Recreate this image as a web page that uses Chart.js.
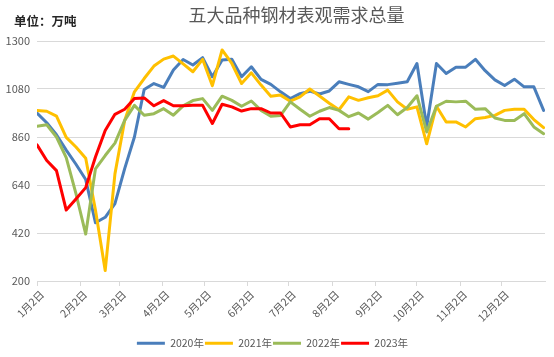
<!DOCTYPE html>
<html>
<head>
<meta charset="utf-8">
<script src="https://cdn.jsdelivr.net/npm/chart.js@4.4.1/dist/chart.umd.min.js"></script>
<style>
html,body{margin:0;padding:0;background:#ffffff;}
#wrap{position:relative;width:554px;height:357px;overflow:hidden;}
#title{position:absolute;left:96px;width:401px;top:3px;line-height:22px;text-align:center;font-family:'Noto Sans CJK SC',sans-serif;font-size:18px;color:#595959;}
#unit{position:absolute;left:14px;top:12px;line-height:18px;font-family:'Noto Sans CJK SC',sans-serif;font-size:12.5px;font-weight:bold;color:#262626;}
canvas{position:absolute;left:0;top:0;}
</style>
</head>
<body>
<div id="wrap">
<canvas id="c" width="554" height="357"></canvas>
<div id="title">五大品种钢材表观需求总量</div>
<div id="unit">单位：万吨</div>
</div>
<script>
// Tick labels (x axis) and their day offsets from 1月2日
const tickLabels = ['1月2日','2月2日','3月2日','4月2日','5月2日','6月2日','7月2日','8月2日','9月2日','10月2日','11月2日','12月2日'];
const tickDays = [0,31,59,90,120,151,181,212,243,273,304,334];
const yTicks = [200,420,640,860,1080,1300];
const seriesNames = ['2020年','2021年','2022年','2023年'];

// Weekly values (万吨)
const s2020 = [970,925,870,800,735,665,467,492,555,715,860,1078,1105,1087,1167,1215,1190,1224,1136,1213,1216,1136,1182,1124,1101,1067,1036,1059,1070,1057,1071,1113,1101,1090,1068,1101,1100,1106,1113,1197,908,1197,1151,1180,1180,1216,1164,1122,1096,1125,1090,1090,982];
const s2021 = [982,978,956,858,814,763,525,248,691,936,1067,1128,1185,1217,1231,1195,1159,1216,1095,1259,1197,1105,1154,1098,1047,1052,1024,1044,1080,1048,1015,985,1044,1028,1040,1049,1075,1021,987,998,829,1001,929,929,906,944,949,959,982,987,987,940,903];
const s2022 = [909,916,860,765,600,415,714,775,832,936,1005,960,967,990,960,1003,1027,1036,982,1047,1028,1001,1025,982,955,959,1021,987,955,978,995,982,953,970,942,972,1005,962,995,1049,883,1001,1024,1021,1024,987,990,947,936,936,967,906,875];
const s2023 = [824,752,706,525,576,628,768,890,964,987,1036,1039,1003,1027,1003,1003,1005,1005,922,1010,998,979,990,990,970,970,906,916,916,944,944,898,898];

const colors = ['#4A7EBB','#FFC000','#9BBB59','#FF0000'];
const weekStep = 7;

const allSeries = [s2020, s2021, s2022, s2023];
const datasets = allSeries.map((arr, k) => ({
  label: seriesNames[k],
  data: arr.map((v, i) => ({x: i * weekStep, y: v})),
  borderColor: colors[k],
  backgroundColor: colors[k],
  borderWidth: 3,
  pointRadius: 0,
  pointHoverRadius: 0,
  tension: 0,
  fill: false,
  borderJoinStyle: 'round',
  borderCapStyle: 'round',
  order: 4 - k
}));

const fixLayout = {
  id: 'fixLayout',
  beforeLayout(chart) {
    const lg = chart.legend;
    if (lg && !lg._patched) {
      const orig = lg.fit;
      lg.fit = function() { orig.call(this); this.height = 20; };
      lg._patched = true;
    }
  }
};

const fontFam = "'Noto Sans CJK SC', sans-serif";

new Chart(document.getElementById('c'), {
  type: 'line',
  data: { datasets },
  plugins: [fixLayout],
  options: {
    responsive: false,
    animation: false,
    devicePixelRatio: 1,
    layout: { padding: { top: 41, right: 9, left: 0, bottom: 0 } },
    plugins: {
      title: { display: false },
      tooltip: { enabled: false },
      legend: {
        display: true,
        position: 'bottom',
        labels: {
          boxWidth: 28,
          boxHeight: 3,
          padding: 1,
          color: '#595959',
          font: { family: fontFam, size: 10.5 },
          sort: (a, b) => a.datasetIndex - b.datasetIndex,
          generateLabels(chart) {
            const items = Chart.defaults.plugins.legend.labels.generateLabels(chart);
            items.forEach(it => { it.fillStyle = it.strokeStyle; it.lineWidth = 0; });
            return items;
          }
        }
      }
    },
    scales: {
      x: {
        type: 'linear',
        min: 0,
        max: 365,
        afterBuildTicks(axis) { axis.ticks = tickDays.map(v => ({ value: v })); },
        afterFit(scale) { scale.height = 56; },
        grid: { drawOnChartArea: false, drawTicks: true, tickLength: 5, color: '#D9D9D9' },
        border: { display: true, color: '#D9D9D9' },
        ticks: {
          autoSkip: false,
          maxRotation: 45,
          minRotation: 45,
          labelOffset: 5,
          padding: 2,
          color: '#595959',
          font: { family: fontFam, size: 10.5 },
          callback: (value, index) => tickLabels[index]
        }
      },
      y: {
        min: 200,
        max: 1300,
        afterBuildTicks(axis) { axis.ticks = yTicks.map(v => ({ value: v })); },
        afterFit(scale) { scale.width = 37; },
        grid: { color: '#D9D9D9', drawTicks: false, lineWidth: 1 },
        border: { display: false },
        ticks: {
          padding: 7,
          color: '#595959',
          font: { family: fontFam, size: 11 },
          callback: (v) => String(v)
        }
      }
    }
  }
});
</script>
</body>
</html>
